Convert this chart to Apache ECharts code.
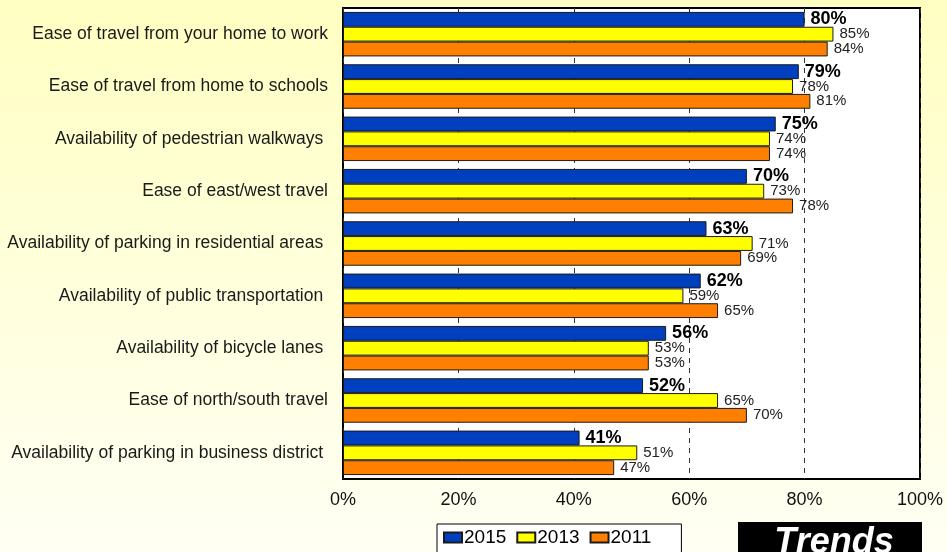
<!DOCTYPE html>
<html>
<head>
<meta charset="utf-8">
<script src="https://cdn.jsdelivr.net/npm/echarts@6/dist/echarts.min.js"></script>
<style>
  html, body { margin: 0; padding: 0; }
  #chart { width: 947px; height: 552px; }
</style>
</head>
<body>
<div id="chart"></div>
<script>
// Survey items, top to bottom
const categories = [
  'Ease of travel from your home to work',
  'Ease of travel from home to schools',
  'Availability of pedestrian walkways ',
  'Ease of east/west travel',
  'Availability of parking in residential areas ',
  'Availability of public transportation ',
  'Availability of bicycle lanes ',
  'Ease of north/south travel',
  'Availability of parking in business district '
];

// Percent satisfied per survey year
const values2015 = [80, 79, 75, 70, 63, 62, 56, 52, 41];
const values2013 = [85, 78, 74, 73, 71, 59, 53, 65, 51];
const values2011 = [84, 81, 74, 78, 69, 65, 53, 70, 47];

const xTicks = { min: 0, max: 100, step: 20 };

const chart = echarts.init(document.getElementById('chart'));

function barSeries(name, data, color, labelStyle) {
  return {
    name: name,
    type: 'bar',
    data: data,
    barGap: '0%',
    barCategoryGap: '15%',
    itemStyle: { color: color, borderColor: '#1a1a1a', borderWidth: 1 },
    label: Object.assign({
      show: true,
      position: 'right',
      distance: 6,
      formatter: '{c}%',
      fontFamily: 'Liberation Sans, Arial, sans-serif'
    }, labelStyle)
  };
}

chart.setOption({
  animation: false,
  backgroundColor: {
    type: 'linear', x: 0, y: 0, x2: 0, y2: 1,
    colorStops: [
      { offset: 0, color: '#FFFFC2' },
      { offset: 1, color: '#FFFFF4' }
    ]
  },
  textStyle: { fontFamily: 'Liberation Sans, Arial, sans-serif' },
  grid: {
    left: 343, right: 27, top: 8, bottom: 73,
    show: true,
    backgroundColor: '#ffffff',
    borderColor: '#000000',
    borderWidth: 2
  },
  xAxis: {
    type: 'value',
    min: xTicks.min,
    max: xTicks.max,
    interval: xTicks.step,
    axisLine: { show: false },
    axisTick: { show: false },
    axisLabel: { formatter: '{value}%', fontSize: 18, color: '#111', margin: 12 },
    splitLine: { show: true, lineStyle: { color: '#333', type: [5, 5], width: 1 } }
  },
  yAxis: {
    type: 'category',
    data: categories,
    inverse: true,
    axisLine: { show: false },
    axisTick: { show: false },
    axisLabel: { fontSize: 17.5, color: '#1a1a1a', margin: 15 }
  },
  legend: {
    data: ['2015', '2013', '2011'],
    left: 437,
    top: 524,
    orient: 'horizontal',
    icon: 'rect',
    itemWidth: 18,
    itemHeight: 10,
    itemGap: 10,
    padding: [4, 30, 8, 6],
    backgroundColor: '#ffffff',
    borderColor: '#000000',
    borderWidth: 1,
    textStyle: { fontSize: 19, color: '#000', padding: [0, 0, 0, -3] }
  },
  graphic: [
    {
      type: 'rect',
      shape: { x: 738, y: 522, width: 184, height: 40 },
      style: { fill: '#000000' }
    },
    {
      type: 'text',
      x: 834, y: 525,
      style: {
        text: 'Trends',
        fill: '#ffffff',
        font: 'italic bold 36px "Liberation Sans", Arial, sans-serif',
        textAlign: 'center',
        textVerticalAlign: 'top'
      }
    }
  ],
  series: [
    barSeries('2015', values2015, '#0040BF', { fontSize: 18, fontWeight: 'bold', color: '#000' }),
    barSeries('2013', values2013, '#FFFF00', { fontSize: 15, color: '#222' }),
    barSeries('2011', values2011, '#FF8000', { fontSize: 15, color: '#222' })
  ]
});
</script>
</body>
</html>
